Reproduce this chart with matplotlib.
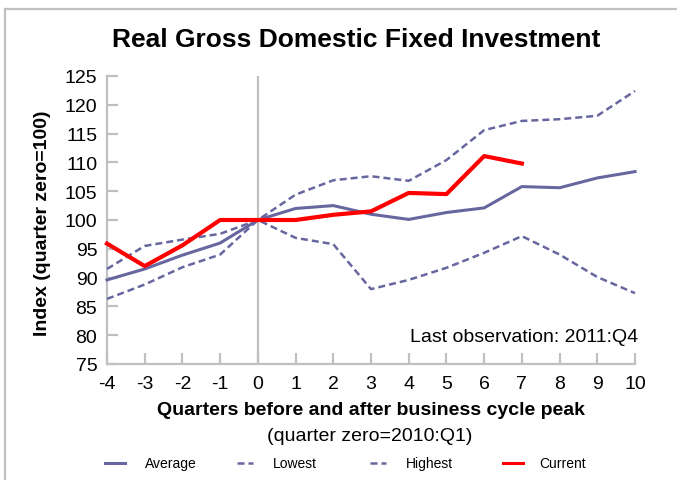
import numpy as np
import matplotlib.pyplot as plt
from matplotlib.lines import Line2D

plt.rcParams['font.family'] = ['Liberation Sans', 'DejaVu Sans']
plt.rcParams['axes.unicode_minus'] = False

quarters = list(range(-4, 11))
average = [89.6, 91.5, 93.9, 96.0, 100.0, 102.0, 102.5, 101.0, 100.1, 101.3, 102.1, 105.8, 105.6, 107.3, 108.4]
lowest = [86.3, 88.8, 91.8, 94.0, 100.0, 96.9, 95.8, 88.0, 89.6, 91.7, 94.3, 97.2, 94.0, 90.1, 87.3]
highest = [91.5, 95.5, 96.6, 97.6, 100.0, 104.4, 106.9, 107.6, 106.8, 110.4, 115.6, 117.2, 117.5, 118.1, 122.4]
current_q = list(range(-4, 8))
current = [95.9, 92.0, 95.6, 100.0, 100.0, 100.0, 100.9, 101.5, 104.7, 104.5, 111.1, 109.8]

W, H = 677, 481
SERIES = '#6767a0'
GRID = '#c0c0c0'
DASH = (0, (2.8, 1.6))

fig = plt.figure(figsize=(W / 100, H / 100), dpi=100)
ax = fig.add_axes([107 / W, 1 - 365 / H, (635 - 107) / W, (365 - 77) / H])

ax.axvline(0, color=GRID, lw=1.6, zorder=1)
ax.plot(quarters, average, color=SERIES, lw=2.2, clip_on=False, zorder=3)
ax.plot(quarters, lowest, color=SERIES, lw=1.8, ls=DASH, clip_on=False, zorder=3)
ax.plot(quarters, highest, color=SERIES, lw=1.8, ls=DASH, clip_on=False, zorder=3)
ax.plot(current_q, current, color='#ff0000', lw=3, clip_on=False, zorder=4)

ax.set_xlim(-4, 10)
ax.set_ylim(75, 125)
ax.set_xticks(quarters)
ax.set_yticks(np.arange(75, 126, 5))
for s in ['top', 'right']:
    ax.spines[s].set_visible(False)
for s in ['left', 'bottom']:
    ax.spines[s].set_color(GRID)
    ax.spines[s].set_linewidth(1.6)
ax.tick_params(direction='in', length=8, width=1.6, color=GRID, labelsize=14)
ax.tick_params(axis='y', pad=7)
ax.tick_params(axis='x', pad=8)

ax.text(1.005, 0.065, 'Last observation: 2011:Q4', transform=ax.transAxes,
        ha='right', va='bottom', fontsize=14)

fig.text(356 / W, 1 - 40 / H, 'Real Gross Domestic Fixed Investment',
         ha='center', va='center', fontsize=19, fontweight='bold')
fig.text(43 / W, 1 - 223 / H, 'Index (quarter zero=100)', rotation=90,
         ha='center', va='center', fontsize=14, fontweight='bold')
fig.text(371 / W, 1 - 411 / H, 'Quarters before and after business cycle peak',
         ha='center', va='center', fontsize=14, fontweight='bold')
fig.text(370 / W, 1 - 437 / H, '(quarter zero=2010:Q1)',
         ha='center', va='center', fontsize=14)

# legend drawn by hand to keep the evenly spaced columns
legend = [('Average', 105, 125, '-', SERIES, 2.2, 145),
          ('Lowest', 237, 253, DASH, SERIES, 1.8, 273),
          ('Highest', 370, 386, DASH, SERIES, 1.8, 406),
          ('Current', 503, 523, '-', '#ff0000', 2.2, 539)]
ly = 1 - 464 / H
for label, x0, x1, ls, c, lw, tx in legend:
    fig.add_artist(Line2D([x0 / W, x1 / W], [ly, ly], color=c, lw=lw, ls=ls))
    fig.text(tx / W, ly, label, ha='left', va='center', fontsize=10)

# outer frame (top and left edges)
fig.add_artist(Line2D([5.5 / W, 1], [1 - 9.5 / H, 1 - 9.5 / H], color=GRID, lw=1.6))
fig.add_artist(Line2D([5.5 / W, 5.5 / W], [0, 1 - 9.5 / H], color=GRID, lw=1.6))

fig.savefig('out.png', dpi=100)
